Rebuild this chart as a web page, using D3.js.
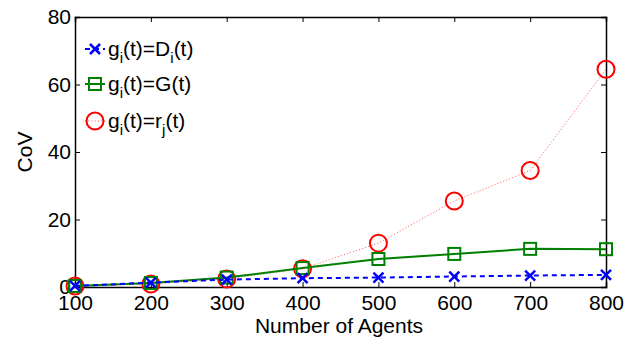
<!DOCTYPE html>
<meta charset="utf-8">
<style>
  body { margin: 0; background: #fff; }
  text { font-family: "Liberation Sans", Arial, sans-serif; fill: #000; }
</style>
<body>
<div id="chart"></div>
<script src="https://d3js.org/d3.v7.min.js"></script>
<script>
  const agents = [100, 200, 300, 400, 500, 600, 700, 800];
  const covDi = [0.3, 1.3, 2.2, 2.6, 2.8, 3.1, 3.4, 3.6];
  const covG = [0.3, 1.2, 2.8, 5.6, 8.3, 9.8, 11.3, 11.2];
  const covRj = [0.3, 0.9, 2.4, 5.4, 13.0, 25.5, 34.5, 64.5];
  const yTicks = [0, 20, 40, 60, 80];

  const width = 644, height = 339;
  const margin = { top: 17, right: 38, bottom: 52, left: 75 };

  const svg = d3.select("#chart").append("svg")
    .attr("width", width)
    .attr("height", height);

  const x = d3.scaleLinear().domain([100, 800]).range([margin.left, width - margin.right]);
  const y = d3.scaleLinear().domain([0, 80]).range([height - margin.bottom, margin.top]);

  // axes box, ticks pointing inward
  const g = svg.append("g");
  g.append("g")
    .attr("transform", `translate(0,${y(0)})`)
    .call(d3.axisBottom(x).tickValues(agents).tickSize(-5).tickPadding(8));
  g.append("g")
    .attr("transform", `translate(0,${y(80)})`)
    .call(d3.axisTop(x).tickValues(agents).tickSize(-5).tickFormat(""));
  g.append("g")
    .attr("transform", `translate(${x(100)},0)`)
    .call(d3.axisLeft(y).tickValues(yTicks).tickSize(-5).tickPadding(4));
  g.append("g")
    .attr("transform", `translate(${x(800)},0)`)
    .call(d3.axisRight(y).tickValues(yTicks).tickSize(-5).tickFormat(""));
  g.selectAll(".domain").attr("stroke", "#000").attr("stroke-width", 1.5);
  g.selectAll(".tick line").attr("stroke", "#000");
  g.selectAll(".tick text").style("font-size", "21px");

  svg.append("text")
    .attr("x", 339)
    .attr("y", 333)
    .attr("text-anchor", "middle")
    .style("font-size", "21px")
    .text("Number of Agents");

  svg.append("text")
    .attr("transform", `translate(32,${(y(0) + y(80)) / 2}) rotate(-90)`)
    .attr("text-anchor", "middle")
    .style("font-size", "21px")
    .text("CoV");

  const series = [
    { values: covRj, color: "#ff0000", lineColor: "#ff7070", dash: "1.2,2", width: 1, marker: "circle" },
    { values: covG, color: "#008000", lineColor: "#008000", dash: null, width: 2, marker: "square" },
    { values: covDi, color: "#0000ff", lineColor: "#0000ff", dash: "5,4", width: 2, marker: "x" }
  ];

  const line = d3.line().x((d, i) => x(agents[i])).y(d => y(d));

  function drawMarker(sel, type, color) {
    if (type === "circle") {
      sel.append("circle").attr("r", 8.5).attr("fill", "none")
        .attr("stroke", color).attr("stroke-width", 2);
    } else if (type === "square") {
      sel.append("rect").attr("x", -6).attr("y", -6).attr("width", 12).attr("height", 12)
        .attr("fill", "none").attr("stroke", color).attr("stroke-width", 2);
    } else {
      sel.append("path").attr("d", "M-5,-5L5,5M-5,5L5,-5")
        .attr("stroke", color).attr("stroke-width", 2.5);
    }
  }

  series.forEach(s => {
    svg.append("path")
      .datum(s.values)
      .attr("d", line)
      .attr("fill", "none")
      .attr("stroke", s.lineColor)
      .attr("stroke-width", s.width)
      .attr("stroke-dasharray", s.dash);
    svg.selectAll(null)
      .data(s.values)
      .enter().append("g")
      .attr("transform", (d, i) => `translate(${x(agents[i])},${y(d)})`)
      .each(function () { drawMarker(d3.select(this), s.marker, s.color); });
  });

  // legend: [text, isSubscript]
  const legend = [
    { s: series[2], parts: [["g", 0], ["i", 1], ["(t)=D", 0], ["i", 1], ["(t)", 0]], y: 49 },
    { s: series[1], parts: [["g", 0], ["i", 1], ["(t)=G(t)", 0]], y: 84 },
    { s: series[0], parts: [["g", 0], ["i", 1], ["(t)=r", 0], ["j", 1], ["(t)", 0]], y: 121 }
  ];
  legend.forEach(l => {
    const lg = svg.append("g").attr("transform", `translate(95,${l.y})`);
    lg.append("line").attr("x1", -10).attr("x2", 10)
      .attr("stroke", l.s.lineColor).attr("stroke-width", l.s.width)
      .attr("stroke-dasharray", l.s.dash);
    drawMarker(lg, l.s.marker, l.s.color);
    const t = lg.append("text").attr("x", 13).attr("y", 7).style("font-size", "21px");
    let prev = 0;
    l.parts.forEach(p => {
      const off = p[1] ? 7 : 0;
      t.append("tspan")
        .attr("dy", off - prev)
        .style("font-size", p[1] ? "15px" : "21px")
        .text(p[0]);
      prev = off;
    });
  });
</script>
</body>
